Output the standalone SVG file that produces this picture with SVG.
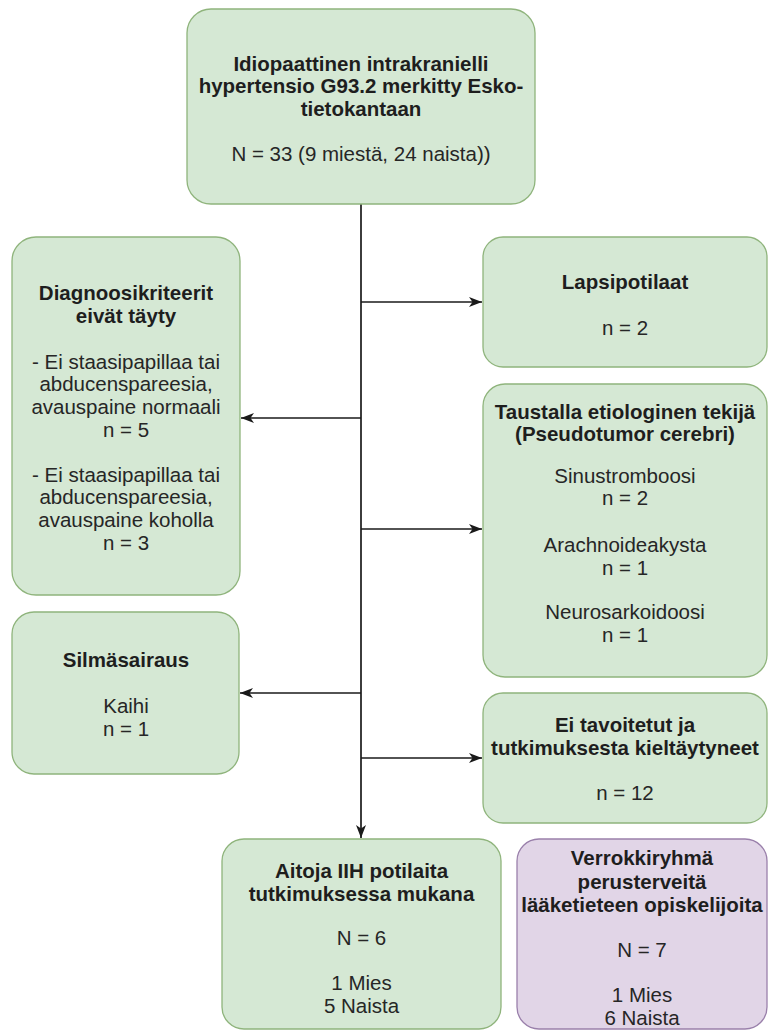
<svg xmlns="http://www.w3.org/2000/svg" width="769" height="1032" viewBox="0 0 769 1032">
<defs>
<style>
.box{fill:#d5e8d4;stroke:#8fb47c;stroke-width:1.3}
.pbox{fill:#e1d5e7;stroke:#9a80ab;stroke-width:1.3}
text{font-family:"Liberation Sans",Arial,sans-serif;font-size:20.5px;fill:#262626;text-anchor:middle}
.b{font-weight:bold;fill:#1e1e1e}
.edge{stroke:#1a1a1a;stroke-width:1.7;fill:none}
</style>
<marker id="arr" viewBox="0 0 13 11" refX="13" refY="5.5" markerWidth="13" markerHeight="11" markerUnits="userSpaceOnUse" orient="auto">
<path d="M0,0.5 L13,5.5 L0,10.5 L3.5,5.5 Z" fill="#1a1a1a"/>
</marker>
</defs>
<rect width="769" height="1032" fill="#ffffff"/>
<g id="connectors">
<line class="edge" x1="361" y1="204" x2="361" y2="838" marker-end="url(#arr)"/>
<line class="edge" x1="361" y1="302" x2="482" y2="302" marker-end="url(#arr)"/>
<line class="edge" x1="361" y1="418" x2="241" y2="418" marker-end="url(#arr)"/>
<line class="edge" x1="361" y1="529" x2="482" y2="529" marker-end="url(#arr)"/>
<line class="edge" x1="361" y1="693" x2="240" y2="693" marker-end="url(#arr)"/>
<line class="edge" x1="361" y1="758" x2="482" y2="758" marker-end="url(#arr)"/>
</g>
<g id="n-top">
<rect class="box" x="187" y="9" width="348" height="195" rx="24"/>
<text class="b" x="361" y="70.5">Idiopaattinen intrakranielli</text>
<text class="b" x="361" y="93">hypertensio G93.2 merkitty Esko-</text>
<text class="b" x="361" y="115.5">tietokantaan</text>
<text x="361" y="161">N = 33 (9 miestä, 24 naista))</text>
</g>
<g id="n-diag">
<rect class="box" x="12" y="237" width="228" height="358" rx="24"/>
<text class="b" x="126" y="300">Diagnoosikriteerit</text>
<text class="b" x="126" y="322.5">eivät täyty</text>
<text x="126" y="369">- Ei staasipapillaa tai</text>
<text x="126" y="391">abducenspareesia,</text>
<text x="126" y="414">avauspaine normaali</text>
<text x="126" y="437">n = 5</text>
<text x="126" y="482">- Ei staasipapillaa tai</text>
<text x="126" y="504">abducenspareesia,</text>
<text x="126" y="527">avauspaine koholla</text>
<text x="126" y="550">n = 3</text>
</g>
<g id="n-silma">
<rect class="box" x="12" y="612" width="227" height="162" rx="22"/>
<text class="b" x="126" y="667">Silmäsairaus</text>
<text x="126" y="713">Kaihi</text>
<text x="126" y="735.5">n = 1</text>
</g>
<g id="n-lapsi">
<rect class="box" x="483" y="237" width="284" height="130" rx="20"/>
<text class="b" x="625" y="289">Lapsipotilaat</text>
<text x="625" y="335">n = 2</text>
</g>
<g id="n-taustalla">
<rect class="box" x="483" y="384" width="284" height="293" rx="22"/>
<text class="b" x="625" y="419">Taustalla etiologinen tekijä</text>
<text class="b" x="625" y="440.5">(Pseudotumor cerebri)</text>
<text x="625" y="482.5">Sinustromboosi</text>
<text x="625" y="505">n = 2</text>
<text x="625" y="552">Arachnoideakysta</text>
<text x="625" y="574.5">n = 1</text>
<text x="625" y="619">Neurosarkoidoosi</text>
<text x="625" y="641.5">n = 1</text>
</g>
<g id="n-eitavoitetut">
<rect class="box" x="483" y="693" width="284" height="130" rx="20"/>
<text class="b" x="625" y="732">Ei tavoitetut ja</text>
<text class="b" x="625" y="755">tutkimuksesta kieltäytyneet</text>
<text x="625" y="800">n = 12</text>
</g>
<g id="n-aitoja">
<rect class="box" x="222" y="839" width="279" height="190" rx="22"/>
<text class="b" x="361.5" y="878">Aitoja IIH potilaita</text>
<text class="b" x="361.5" y="900.5">tutkimuksessa mukana</text>
<text x="361.5" y="945">N = 6</text>
<text x="361.5" y="990">1 Mies</text>
<text x="361.5" y="1013">5 Naista</text>
</g>
<g id="n-verrokki">
<rect class="pbox" x="517" y="839" width="250" height="190" rx="22"/>
<text class="b" x="642" y="865">Verrokkiryhmä</text>
<text class="b" x="642" y="888.5">perusterveitä</text>
<text class="b" x="642" y="912">lääketieteen opiskelijoita</text>
<text x="642" y="957">N = 7</text>
<text x="642" y="1002">1 Mies</text>
<text x="642" y="1025">6 Naista</text>
</g>
</svg>
